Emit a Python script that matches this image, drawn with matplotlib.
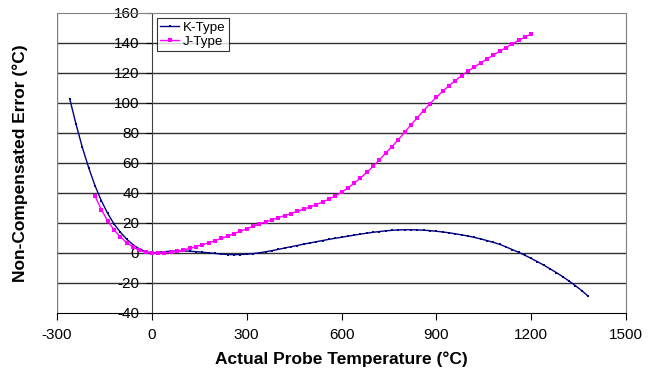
import matplotlib
matplotlib.use("Agg")
import matplotlib.pyplot as plt
import numpy as np

# --- data (step 20 °C) ---
k_temp = np.arange(-260, 1381, 20)
k_error = [
    103.0, 86.0, 70.5, 57.0, 45.0, 35.0, 26.5, 19.5, 14.0, 9.3, 5.6, 2.8, 1.0,
    0.0, 0.5, 0.9, 1.2, 1.4, 1.4, 1.2, 0.9, 0.5, 0.1, -0.3, -0.7, -1.0, -1.1,
    -1.0, -0.8, -0.4, 0.1, 0.8, 1.6, 2.4, 3.3, 4.2, 5.0, 5.9, 6.7, 7.5, 8.3,
    9.1, 9.8, 10.5, 11.2, 11.9, 12.6, 13.2, 13.8, 14.3, 14.8, 15.1, 15.4, 15.5,
    15.5, 15.4, 15.2, 14.9, 14.5, 14.0, 13.5, 12.8, 12.1, 11.3, 10.4, 9.4, 8.3,
    7.1, 5.8, 4.1, 2.3, 0.5, -1.5, -3.6, -5.8, -8.1, -10.6, -13.1, -15.8, -18.7,
    -21.8, -25.1, -28.7,
]

j_temp = np.arange(-180, 1201, 20)
j_error = [
    38.0, 29.0, 21.5, 15.5, 10.8, 7.0, 4.1, 1.9, 0.5,
    0.0, -0.1, 0.0, 0.4, 1.1, 2.0, 3.1, 4.3, 5.5, 6.8, 8.2, 9.7, 11.3, 12.9,
    14.5, 16.1, 17.7, 19.3, 20.8, 22.2, 23.6, 24.9, 26.3, 27.8, 29.2, 30.7,
    32.3, 34.0, 35.9, 38.0, 40.5, 43.3, 46.5, 50.0, 53.8, 57.8, 62.2, 66.6,
    71.0, 75.6, 80.5, 85.5, 90.3, 95.0, 99.5, 103.8, 107.8, 111.5, 115.0,
    118.2, 121.2, 124.0, 126.7, 129.3, 131.9, 134.4, 136.9, 139.4, 141.7,
    143.9, 146.0,
]

x_ticks = [-300, 0, 300, 600, 900, 1200, 1500]
y_ticks = [-40, -20, 0, 20, 40, 60, 80, 100, 120, 140, 160]

plt.rcParams['font.family'] = ['Liberation Sans', 'DejaVu Sans']
plt.rcParams['axes.unicode_minus'] = False

fig = plt.figure(figsize=(6.55, 3.73), dpi=100)
ax = fig.add_axes([57 / 655, 1 - 313 / 373, 569 / 655, 300 / 373])

ax.set_xlim(-300, 1500)
ax.set_ylim(-40, 160)

# horizontal grid lines
for yv in y_ticks[1:-1]:
    ax.axhline(yv, color='#303030', lw=1.0, zorder=1)
ax.axvline(-300, color='#808080', lw=1.0, zorder=1)

ax.plot(k_temp, k_error, color='#000080', lw=1.0, marker='s', ms=1.8,
        mew=0, label='K-Type', zorder=3)
ax.plot(j_temp, j_error, color='#FF00FF', lw=1.0, marker='s', ms=2.2,
        mew=0, label='J-Type', zorder=3)

ax.spines['left'].set_position(('data', 0))
ax.spines['left'].set_color('#404040')
ax.spines['top'].set_color('#808080')
ax.spines['right'].set_color('#808080')
ax.spines['bottom'].set_color('#000000')

ax.set_xticks(x_ticks)
ax.set_yticks(y_ticks)
ax.tick_params(axis='x', direction='out', length=5, pad=6, labelsize=11)
ax.tick_params(axis='y', direction='out', length=4, pad=5, labelsize=11)

leg = ax.legend(loc='upper left', bbox_to_anchor=(100 / 569, 295 / 300),
                fontsize=9.6, frameon=True, fancybox=False, borderpad=0.25,
                handlelength=1.4, handletextpad=0.3, labelspacing=0.15,
                borderaxespad=0)
leg.get_frame().set_edgecolor('black')
leg.get_frame().set_linewidth(0.8)

fig.text(341 / 655, 1 - 359 / 373, 'Actual Probe Temperature (°C)',
         ha='center', va='center', fontsize=12.5, fontweight='bold')
fig.text(20 / 655, 1 - 163 / 373, 'Non-Compensated Error (°C)',
         ha='center', va='center', rotation=90, fontsize=12.5, fontweight='bold')

fig.savefig('out.png', dpi=100)
